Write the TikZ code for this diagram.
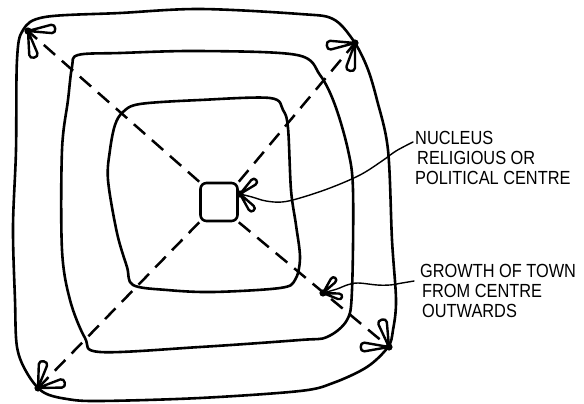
\documentclass[tikz,border=0pt]{standalone}
\usepackage{fontspec}
\setmainfont{Liberation Sans}[FakeStretch=0.86]
\usetikzlibrary{calc}
\newcommand\fletch[5]{% tip, angle1, angle2, length, half-angle (image angles, y down)
  \foreach \ang in {#2,#3} {
    \draw[petalline] (#1) -- ($(#1)+(\ang+#5:#4)$) .. controls +(\ang+#5:5) and +(\ang-#5:5) .. ($(#1)+(\ang-#5:#4)$) -- cycle;
  }
  \fill (#1) circle (3.6);
}
\begin{document}
\begin{tikzpicture}[x=1pt,y=-1pt,
  sketch/.style={line width=2.6pt, line join=round, line cap=round},
  diag/.style={line width=2.5pt, dash pattern=on 15pt off 9pt},
  petalline/.style={line width=2.4pt, line join=round, fill=white},
  lead/.style={line width=1.4pt, line cap=round},
  lbl/.style={anchor=base west, inner sep=0pt, font=\fontsize{19}{21}\selectfont}]
\useasboundingbox (0,0) rectangle (584,404);

% outer ring
\draw[sketch] plot[smooth cycle, tension=0.55] coordinates {
  (23,30) (45,17) (120,13) (200,9) (300,14) (333,19) (353,40) (367,67) (377,100)
  (388,150) (392,240) (396,300) (393,330) (388,347) (367,367) (333,383) (300,391)
  (200,398) (100,401) (67,399) (43,392) (27,373) (17,347) (15,300) (13,227) (16,150) (17,60)};
% middle ring
\draw[sketch] plot[smooth cycle, tension=0.55] coordinates {
  (78,55) (120,53) (200,51) (297,55) (320,75) (335,105) (348,150) (353,190)
  (352,290) (347,320) (327,337) (300,340) (200,347) (100,352) (85,338) (70,300)
  (62,250) (62,150) (68,100) (72,67)};
% inner ring
\draw[sketch] plot[smooth cycle, tension=0.55] coordinates {
  (123,112) (140,104) (200,100) (270,98) (283,110) (288,128) (291,190) (296,225)
  (300,258) (295,280) (280,288) (213,292) (167,290) (133,285) (127,267) (117,233)
  (108,180) (110,150) (115,125)};

% nucleus
\node[draw, sketch, rounded corners=6pt, minimum width=37pt, minimum height=38pt, inner sep=0pt] (nuc) at (219,202) {};

% corner tips
\coordinate (tTL) at (28,31);
\coordinate (tTR) at (355,43);
\coordinate (tBR) at (389,347);
\coordinate (tBL) at (38,388);

\draw[diag] (nuc.north west) -- (tTL);
\draw[diag] (nuc.north east) -- (tTR);
\draw[diag] (nuc.south east) -- (tBR);
\draw[diag] (nuc.south west) -- (tBL);

\fletch{tTL}{-5}{77}{24}{10}
\fletch{tTR}{175}{100}{25}{10}
\fletch{tBR}{180}{-105}{25}{10}
\fletch{tBL}{-78}{-11}{24}{10}

% labels
\node[lbl] (n1) at (415,144) {NUCLEUS};
\node[lbl] (n2) at (417,164) {RELIGIOUS OR};
\node[lbl] (n3) at (415,184) {POLITICAL CENTRE};
\node[lbl] (g1) at (420,277) {GROWTH OF TOWN};
\node[lbl] (g2) at (422,297) {FROM CENTRE};
\node[lbl] (g3) at (422,317) {OUTWARDS};

% leaders
\coordinate (aN) at (240,194);
\coordinate (aG) at (323,293);
\coordinate (eN) at (413,142);
\coordinate (eG) at (414,281);
\draw[lead] plot[smooth, tension=0.6] coordinates {(aN) (252,197) (266,201) (282,202) (300,198) (330,188) (360,175) (382,161) (396,151) (eN)};
\draw[lead] plot[smooth, tension=0.6] coordinates {(aG) (337,289) (347,285) (358,283) (377,285) (390,285) (402,283) (eG)};
\fletch{aN}{-41}{51}{18}{10}
\fletch{aG}{-51}{12}{16}{10}
\end{tikzpicture}
\end{document}
